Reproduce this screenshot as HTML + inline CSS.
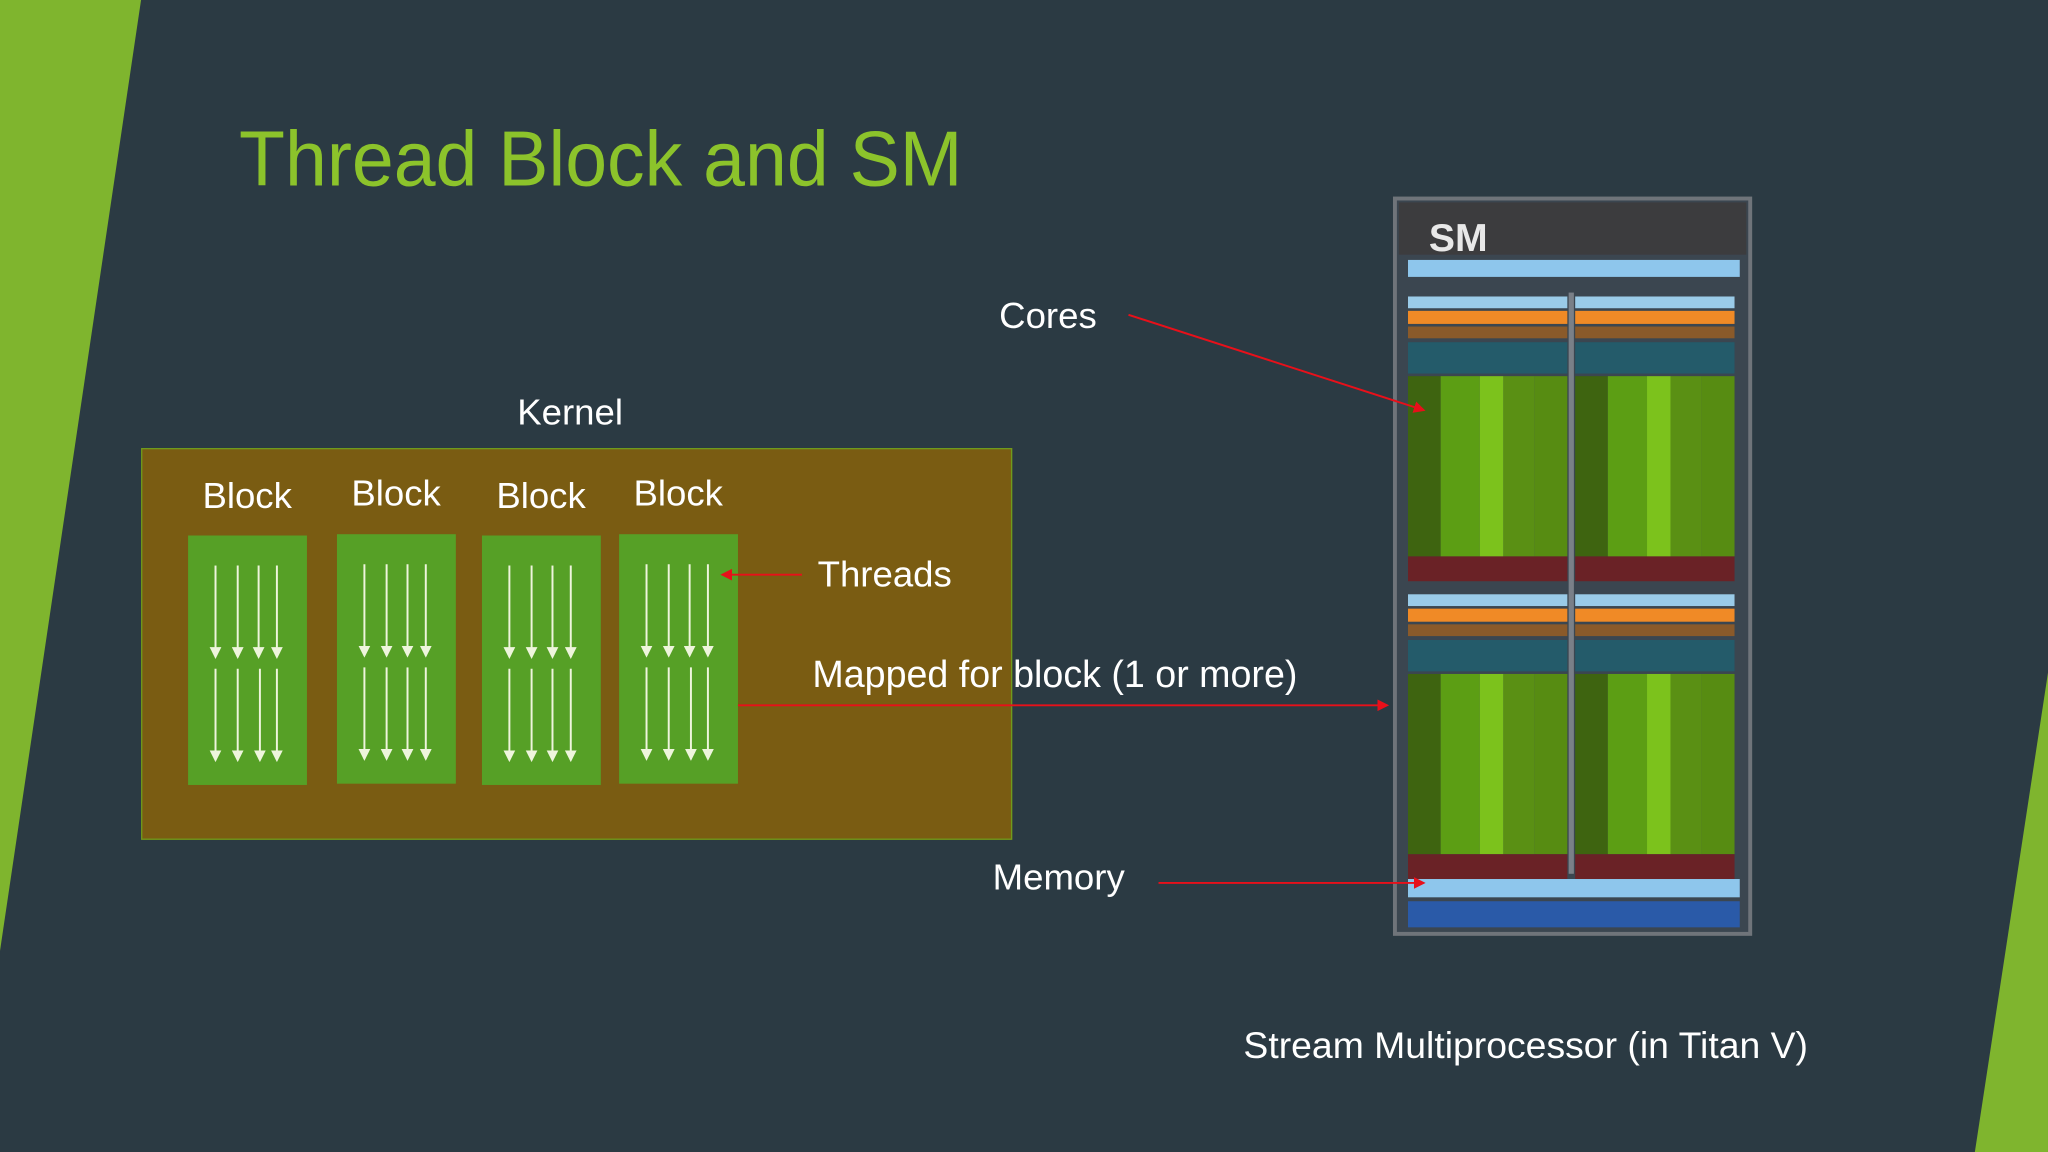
<!DOCTYPE html>
<html><head><meta charset="utf-8">
<style>
html,body{margin:0;padding:0;background:#2b3a43;}
body{width:2048px;height:1152px;overflow:hidden;position:relative;}
#s{position:absolute;left:0;top:0;width:1568px;height:882px;transform:scale(1.306122);transform-origin:0 0;font-family:"Liberation Sans",sans-serif;color:#fff;}
.a{position:absolute;}
.t{position:absolute;font-size:28px;line-height:1;white-space:nowrap;}
</style></head><body><div id="s">
<svg class="a" style="left:0;top:0" width="1568" height="882">
<polygon points="0,0 108,0 0,728" fill="#7fb52e"/>
<polygon points="1568,515 1568,882 1512,882" fill="#7fb52e"/>
</svg>
<div class="a" style="left:183px;top:92px;font-size:60px;line-height:1;color:#8cc32b;transform:scaleX(0.96);transform-origin:0 0;white-space:nowrap">Thread Block and SM</div>

<div class="t" style="left:396px;top:302px">Kernel</div>
<div class="a" style="left:108px;top:343px;width:665px;height:298px;background:#7a5c12;border:1.5px solid #6f9a1c"></div>
<div class="t" style="left:155px;top:366px">Block</div>
<div class="t" style="left:269px;top:364px">Block</div>
<div class="t" style="left:380px;top:366px">Block</div>
<div class="t" style="left:485px;top:364px">Block</div>

<svg class="a" style="left:0;top:0" width="1568" height="882">
<defs>
<marker id="w" markerWidth="6" markerHeight="6" refX="5" refY="3" orient="auto" markerUnits="strokeWidth"><path d="M0,0 L6,3 L0,6z" fill="#eef5dc"/></marker>
<marker id="r" markerWidth="6" markerHeight="6" refX="5" refY="3" orient="auto" markerUnits="strokeWidth"><path d="M0,0 L6,3 L0,6z" fill="#e8101a"/></marker>
</defs>
<g fill="#56a026">
<rect x="144" y="410" width="91" height="191"/>
<rect x="258" y="409" width="91" height="191"/>
<rect x="369" y="410" width="91" height="191"/>
<rect x="474" y="409" width="91" height="191"/>
</g>
<g stroke="#eef5dc" stroke-width="1.5" marker-end="url(#w)">
<line x1="165" y1="433" x2="165" y2="503"/><line x1="182" y1="433" x2="182" y2="503"/><line x1="198" y1="433" x2="198" y2="503"/><line x1="212" y1="433" x2="212" y2="503"/>
<line x1="165" y1="512" x2="165" y2="582"/><line x1="182" y1="512" x2="182" y2="582"/><line x1="199" y1="512" x2="199" y2="582"/><line x1="212" y1="512" x2="212" y2="582"/>
<line x1="279" y1="432" x2="279" y2="502"/><line x1="296" y1="432" x2="296" y2="502"/><line x1="312" y1="432" x2="312" y2="502"/><line x1="326" y1="432" x2="326" y2="502"/>
<line x1="279" y1="511" x2="279" y2="581"/><line x1="296" y1="511" x2="296" y2="581"/><line x1="312" y1="511" x2="312" y2="581"/><line x1="326" y1="511" x2="326" y2="581"/>
<line x1="390" y1="433" x2="390" y2="503"/><line x1="407" y1="433" x2="407" y2="503"/><line x1="423" y1="433" x2="423" y2="503"/><line x1="437" y1="433" x2="437" y2="503"/>
<line x1="390" y1="512" x2="390" y2="582"/><line x1="407" y1="512" x2="407" y2="582"/><line x1="423" y1="512" x2="423" y2="582"/><line x1="437" y1="512" x2="437" y2="582"/>
<line x1="495" y1="432" x2="495" y2="502"/><line x1="512" y1="432" x2="512" y2="502"/><line x1="528" y1="432" x2="528" y2="502"/><line x1="542" y1="432" x2="542" y2="502"/>
<line x1="495" y1="511" x2="495" y2="581"/><line x1="512" y1="511" x2="512" y2="581"/><line x1="529" y1="511" x2="529" y2="581"/><line x1="542" y1="511" x2="542" y2="581"/>
</g>
<!-- SM -->
<rect x="1068" y="152" width="272" height="563" fill="#3b4650" stroke="#6f747a" stroke-width="3"/>
<rect x="1071" y="155" width="266" height="40" fill="#3c3c3e"/>
<text x="1094" y="192" font-family="Liberation Sans" font-weight="bold" font-size="30" fill="#e8e8e8">SM</text>
<rect x="1078" y="199" width="254" height="13" fill="#8ec6ec"/>
<g id="h">
<rect x="1078" y="227" width="122" height="9" fill="#9acbe8"/>
<rect x="1078" y="238" width="122" height="10" fill="#f08a26"/>
<rect x="1078" y="250" width="122" height="9" fill="#8a5a2a"/>
<rect x="1078" y="262" width="122" height="24" fill="#245b6a"/>
<rect x="1078" y="288" width="25" height="138" fill="#3e6410"/>
<rect x="1103" y="288" width="30" height="138" fill="#5c9e14"/>
<rect x="1133" y="288" width="18" height="138" fill="#7cc21c"/>
<rect x="1151" y="288" width="24" height="138" fill="#5a9014"/>
<rect x="1175" y="288" width="25" height="138" fill="#578c12"/>
<rect x="1078" y="426" width="122" height="19" fill="#6a2226"/>
</g>
<use href="#h" x="128"/>
<use href="#h" y="228"/>
<use href="#h" x="128" y="228"/>
<rect x="1201" y="224" width="4" height="445" fill="#7a8088"/>
<rect x="1078" y="673" width="254" height="14" fill="#8ec6ec"/>
<rect x="1078" y="690" width="254" height="20" fill="#2a5aa8"/>
<g stroke="#e8101a" stroke-width="1.5" fill="none" marker-end="url(#r)">
<line x1="614" y1="440" x2="553" y2="440"/>
<line x1="565" y1="540" x2="1062" y2="540"/>
<line x1="864" y1="241" x2="1090" y2="314"/>
<line x1="887" y1="676" x2="1090" y2="676"/>
</g>
</svg>

<div class="t" style="left:626px;top:426px">Threads</div>
<div class="t" style="left:622px;top:503px;font-size:28.8px">Mapped for block (1 or more)</div>
<div class="t" style="left:765px;top:228px">Cores</div>
<div class="t" style="left:760px;top:658px">Memory</div>
<div class="t" style="left:952px;top:787px;font-size:28.6px">Stream Multiprocessor (in Titan V)</div>
</div></body></html>
